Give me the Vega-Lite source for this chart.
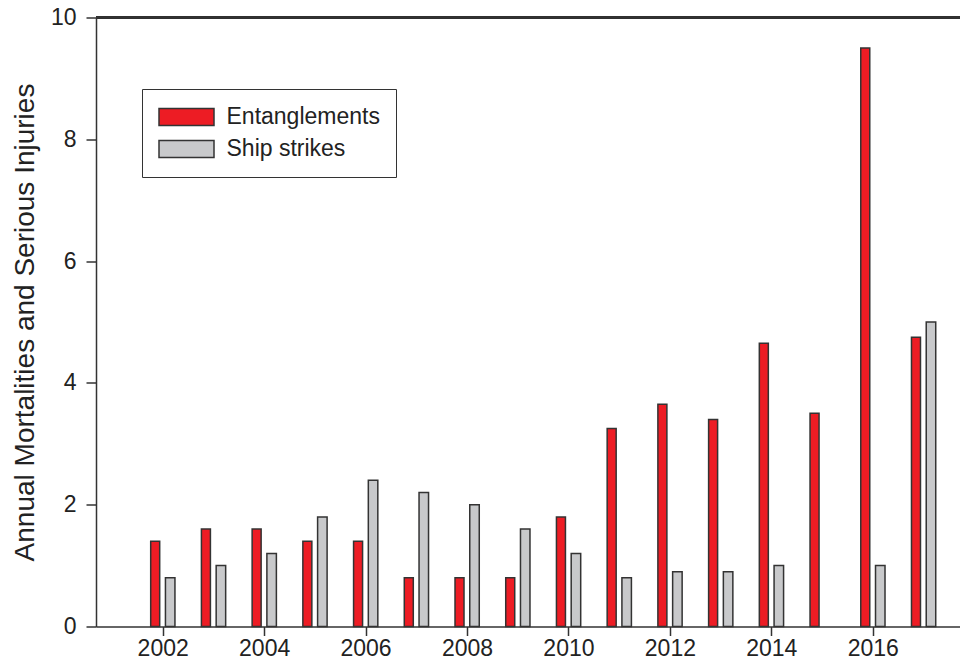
{
  "$schema": "https://vega.github.io/schema/vega-lite/v6.json",
  "width": 864,
  "height": 609,
  "autosize": {"type": "none"},
  "padding": {"left": 96, "top": 17.5, "right": 0, "bottom": 39.5},
  "background": "white",
  "config": {
    "view": {"stroke": null},
    "font": "Liberation Sans",
    "axis": {
      "grid": false,
      "domainColor": "#333333",
      "domainWidth": 1.5,
      "tickColor": "#333333",
      "tickWidth": 1.5,
      "labelFont": "Liberation Sans",
      "labelFontSize": 23,
      "labelColor": "#222222",
      "titleFont": "Liberation Sans",
      "titleFontSize": 28,
      "titleFontWeight": "normal",
      "titleColor": "#222222"
    }
  },
  "datasets": {
    "mortality": [
      {"year": 2002, "type": "Entanglements", "value": 1.4},
      {"year": 2003, "type": "Entanglements", "value": 1.6},
      {"year": 2004, "type": "Entanglements", "value": 1.6},
      {"year": 2005, "type": "Entanglements", "value": 1.4},
      {"year": 2006, "type": "Entanglements", "value": 1.4},
      {"year": 2007, "type": "Entanglements", "value": 0.8},
      {"year": 2008, "type": "Entanglements", "value": 0.8},
      {"year": 2009, "type": "Entanglements", "value": 0.8},
      {"year": 2010, "type": "Entanglements", "value": 1.8},
      {"year": 2011, "type": "Entanglements", "value": 3.25},
      {"year": 2012, "type": "Entanglements", "value": 3.65},
      {"year": 2013, "type": "Entanglements", "value": 3.4},
      {"year": 2014, "type": "Entanglements", "value": 4.65},
      {"year": 2015, "type": "Entanglements", "value": 3.5},
      {"year": 2016, "type": "Entanglements", "value": 9.5},
      {"year": 2017, "type": "Entanglements", "value": 4.75},
      {"year": 2002, "type": "Ship strikes", "value": 0.8},
      {"year": 2003, "type": "Ship strikes", "value": 1.0},
      {"year": 2004, "type": "Ship strikes", "value": 1.2},
      {"year": 2005, "type": "Ship strikes", "value": 1.8},
      {"year": 2006, "type": "Ship strikes", "value": 2.4},
      {"year": 2007, "type": "Ship strikes", "value": 2.2},
      {"year": 2008, "type": "Ship strikes", "value": 2.0},
      {"year": 2009, "type": "Ship strikes", "value": 1.6},
      {"year": 2010, "type": "Ship strikes", "value": 1.2},
      {"year": 2011, "type": "Ship strikes", "value": 0.8},
      {"year": 2012, "type": "Ship strikes", "value": 0.9},
      {"year": 2013, "type": "Ship strikes", "value": 0.9},
      {"year": 2014, "type": "Ship strikes", "value": 1.0},
      {"year": 2016, "type": "Ship strikes", "value": 1.0},
      {"year": 2017, "type": "Ship strikes", "value": 5.0}
    ]
  },
  "data": {"name": "mortality"},
  "layer": [
    {
      "transform": [{"filter": "datum.type === 'Entanglements'"}],
      "mark": {"type": "bar", "width": 9, "xOffset": -7.5, "stroke": "#333333", "strokeWidth": 1.5, "opacity": 1},
      "encoding": {
        "x": {
          "field": "year",
          "type": "quantitative",
          "scale": {"domain": [2000.685, 2017.72], "nice": false, "zero": false, "padding": 0},
          "axis": {
            "values": [2002, 2004, 2006, 2008, 2010, 2012, 2014, 2016],
            "format": "d",
            "title": null,
            "tickSize": 9,
            "labelPadding": 2
          }
        },
        "y": {
          "field": "value",
          "type": "quantitative",
          "scale": {"domain": [0, 10], "nice": false},
          "axis": {
            "values": [0, 2, 4, 6, 8, 10],
            "format": "d",
            "title": "Annual Mortalities and Serious Injuries",
            "tickSize": 10,
            "labelPadding": 10,
            "titlePadding": 11
          }
        },
        "color": {
          "field": "type",
          "type": "nominal",
          "scale": {"domain": ["Entanglements", "Ship strikes"], "range": ["#ED1C24", "#C8C9CB"]},
          "legend": {
            "orient": "none",
            "legendX": 46,
            "legendY": 71.5,
            "title": null,
            "symbolType": "M-2.5,-0.77H2.5V0.77H-2.5Z",
            "symbolSize": 484,
            "symbolOffset": 16.5,
            "symbolStrokeColor": "#333333",
            "symbolStrokeWidth": 1.5,
            "symbolOpacity": 1,
            "labelFont": "Liberation Sans",
            "labelFontSize": 23,
            "labelColor": "#222222",
            "labelOffset": 28,
            "strokeColor": "#333333",
            "fillColor": "white",
            "padding": 16,
            "rowPadding": 8
          }
        }
      }
    },
    {
      "transform": [{"filter": "datum.type === 'Ship strikes'"}],
      "mark": {"type": "bar", "width": 9.5, "xOffset": 7.5, "stroke": "#333333", "strokeWidth": 1.5, "opacity": 1},
      "encoding": {
        "x": {"field": "year", "type": "quantitative"},
        "y": {"field": "value", "type": "quantitative"},
        "color": {"field": "type", "type": "nominal"}
      }
    },
    {
      "mark": {"type": "rule", "color": "#333333", "strokeWidth": 1.5},
      "encoding": {"y": {"datum": 10}}
    }
  ]
}
